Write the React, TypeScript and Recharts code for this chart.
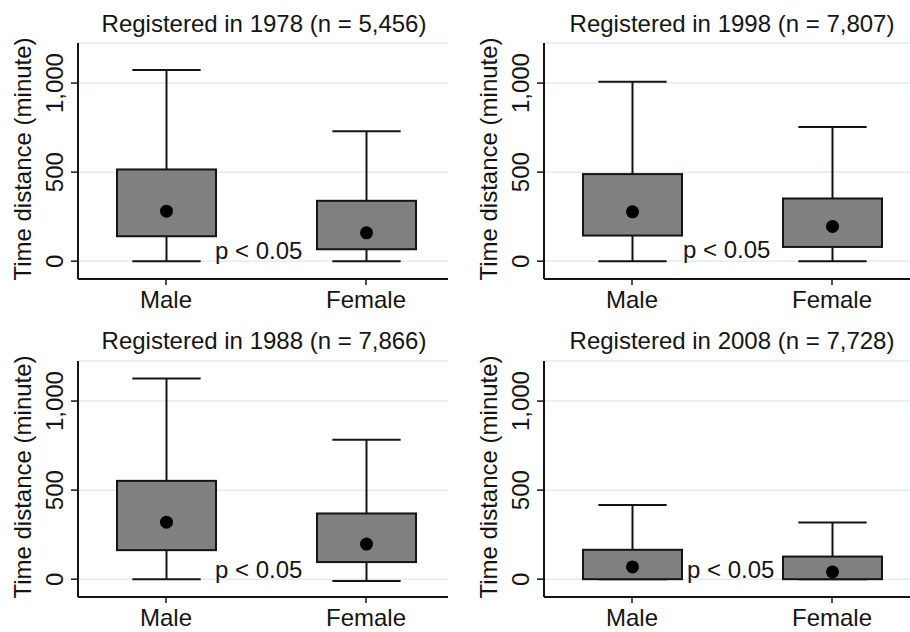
import React from 'react';
import { ComposedChart, Bar, XAxis, YAxis, CartesianGrid } from 'recharts';

// Box plot statistics (minutes)
const categories = ['Male', 'Female'];

const titles = [
  'Registered in 1978 (n = 5,456)',
  'Registered in 1998 (n = 7,807)',
  'Registered in 1988 (n = 7,866)',
  'Registered in 2008 (n = 7,728)',
];

const low1978 = [0, 0];
const q1_1978 = [140, 67];
const q3_1978 = [515, 339];
const high1978 = [1073, 730];
const mean1978 = [281, 159];

const low1998 = [0, 0];
const q1_1998 = [144, 80];
const q3_1998 = [489, 352];
const high1998 = [1007, 753];
const mean1998 = [277, 195];

const low1988 = [0, -10];
const q1_1988 = [163, 96];
const q3_1988 = [552, 369];
const high1988 = [1127, 783];
const mean1988 = [320, 197];

const low2008 = [0, 0];
const q1_2008 = [0, 0];
const q3_2008 = [165, 127];
const high2008 = [417, 318];
const mean2008 = [69, 41];

const yTicks = [0, 500, 1000];
const yDomain = [-100, 1225];
const pLabel = 'p < 0.05';

const build = (low: number[], q1: number[], q3: number[], high: number[], mean: number[]) =>
  categories.map((group, i) => ({
    group,
    low: low[i],
    q1: q1[i],
    q3: q3[i],
    high: high[i],
    mean: mean[i],
  }));

const panels = [
  { data: build(low1978, q1_1978, q3_1978, high1978, mean1978), left: 0, top: 0, width: 455, right: 7 },
  { data: build(low1998, q1_1998, q3_1998, high1998, mean1998), left: 466, top: 0, width: 448, right: 0 },
  { data: build(low1988, q1_1988, q3_1988, high1988, mean1988), left: 0, top: 318, width: 455, right: 7 },
  { data: build(low2008, q1_2008, q3_2008, high2008, mean2008), left: 466, top: 318, width: 448, right: 0 },
];

const ink = '#141414';
const fmt = (v: number) => v.toLocaleString('en-US');

// draws whiskers, box and mean dot inside the range bar [low, high]
const BoxShape = (props: any) => {
  const { x, y, width, height, payload } = props;
  const span = payload.high - payload.low || 1;
  const toPx = (v: number) => y + ((payload.high - v) / span) * height;
  const cx = x + width / 2;
  const cap = width * 0.69;
  const yHigh = toPx(payload.high);
  const yLow = toPx(payload.low);
  const yQ3 = toPx(payload.q3);
  const yQ1 = toPx(payload.q1);
  return (
    <g>
      <line x1={cx} x2={cx} y1={yHigh} y2={yQ3} stroke={ink} strokeWidth={2} />
      <line x1={cx} x2={cx} y1={yQ1} y2={yLow} stroke={ink} strokeWidth={2} />
      <line x1={cx - cap / 2} x2={cx + cap / 2} y1={yHigh} y2={yHigh} stroke={ink} strokeWidth={2} />
      <line x1={cx - cap / 2} x2={cx + cap / 2} y1={yLow} y2={yLow} stroke={ink} strokeWidth={2} />
      <rect x={x} y={yQ3} width={width} height={yQ1 - yQ3} fill="#808080" stroke={ink} strokeWidth={2} />
      <circle cx={cx} cy={toPx(payload.mean)} r={6.5} fill="#000" />
    </g>
  );
};

const YTick = (props: any) => {
  const { x, y, payload } = props;
  return (
    <text x={x} y={y} transform={`rotate(-90 ${x} ${y})`} textAnchor="middle" fontSize={24} fill={ink}>
      {fmt(payload.value)}
    </text>
  );
};

const YLabel = (props: any) => {
  const vb = props.viewBox || { x: 0, y: 43, width: 78, height: 236 };
  const lx = vb.x + 30.5;
  const ly = vb.y + vb.height / 2 - 2;
  return (
    <text x={lx} y={ly} transform={`rotate(-90 ${lx} ${ly})`} textAnchor="middle" fontSize={24} fill={ink}>
      Time distance (minute)
    </text>
  );
};

const titlePos = [
  { x: 264, y: 31.5 },
  { x: 732, y: 31.5 },
  { x: 264, y: 349 },
  { x: 732, y: 349 },
];
const pPos = [
  { x: 215, y: 258.5 },
  { x: 683, y: 258 },
  { x: 215, y: 577.5 },
  { x: 687, y: 577.5 },
];

export default function App() {
  return (
    <div
      style={{
        position: 'absolute',
        left: 0,
        top: 0,
        width: 910,
        height: 632,
        overflow: 'hidden',
        background: '#fff',
        fontFamily: '"Liberation Sans", Arial, sans-serif',
      }}
    >
      {panels.map((p, i) => (
        <div key={i} style={{ position: 'absolute', left: p.left, top: p.top }}>
          <ComposedChart
            width={p.width}
            height={316}
            data={p.data}
            margin={{ top: 43, right: p.right, bottom: 0, left: 0 }}
          >
            <CartesianGrid vertical={false} stroke="#e3ecef" strokeWidth={1.5} />
            <XAxis
              dataKey="group"
              type="category"
              padding={{ left: -12, right: -18 }}
              height={37}
              tickSize={6}
              tickMargin={6}
              axisLine={{ stroke: ink, strokeWidth: 2 }}
              tickLine={{ stroke: ink, strokeWidth: 1.5 }}
              tick={{ fill: ink, fontSize: 24 }}
              interval={0}
            />
            <YAxis
              type="number"
              domain={yDomain}
              ticks={yTicks}
              allowDataOverflow
              width={78}
              tickSize={7}
              tickMargin={8}
              axisLine={{ stroke: ink, strokeWidth: 2 }}
              tickLine={{ stroke: ink, strokeWidth: 1.5 }}
              tick={<YTick />}
              label={<YLabel />}
            />
            <Bar
              dataKey={(d: any) => [d.low, d.high]}
              barSize={99}
              shape={<BoxShape />}
              isAnimationActive={false}
            />
          </ComposedChart>
        </div>
      ))}
      <svg
        width={910}
        height={632}
        style={{ position: 'absolute', left: 0, top: 0, pointerEvents: 'none' }}
      >
        {titles.map((t, i) => (
          <text key={t} x={titlePos[i].x} y={titlePos[i].y} textAnchor="middle" fontSize={24} fill={ink}>
            {t}
          </text>
        ))}
        {pPos.map((pp, i) => (
          <text key={i} x={pp.x} y={pp.y} fontSize={24} fill={ink}>
            {pLabel}
          </text>
        ))}
      </svg>
    </div>
  );
}
